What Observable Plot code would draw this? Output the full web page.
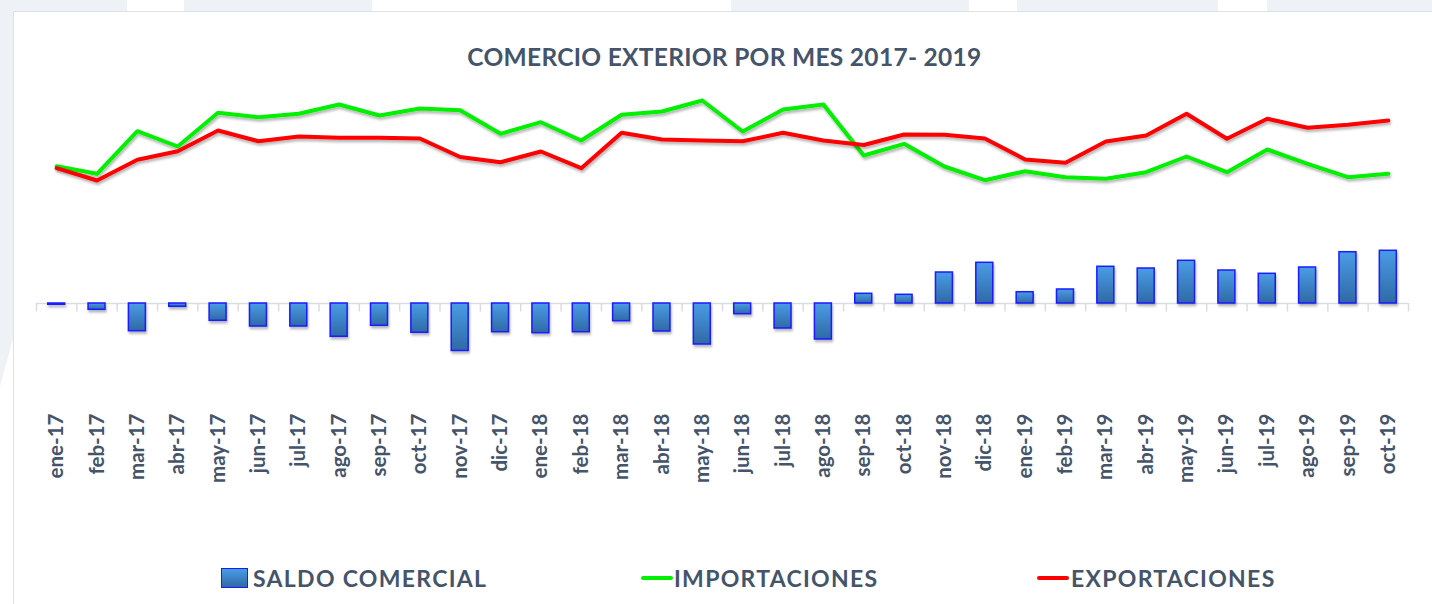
<!DOCTYPE html>
<html><head><meta charset="utf-8">
<script src="https://cdn.jsdelivr.net/npm/d3@7"></script>
<script src="https://cdn.jsdelivr.net/npm/@observablehq/plot@0.6"></script>
<style>
body{margin:0;background:#fff;width:1432px;height:604px;overflow:hidden;position:relative;font-family:Lato,"Open Sans",sans-serif;}
.blk{position:absolute;top:0;height:11px;background:#eef2f6;}
#leftstrip{position:absolute;left:0;top:0;width:13px;height:604px;background:#eef2f6;clip-path:polygon(0 0,100% 0,100% 56%,0 64%,0 100%,0 100%);}
#frame{position:absolute;left:13px;top:11px;width:1500px;height:700px;border:1px solid #dce2e9;box-sizing:border-box;background:#fff;}
#title{position:absolute;left:0;width:1449px;top:42px;text-align:center;font-size:24.5px;font-weight:700;color:#44546a;letter-spacing:0.3px;}
#chart{position:absolute;left:0;top:80px;}
.leg{position:absolute;top:565px;font-size:23px;font-weight:700;color:#44546a;line-height:26px;letter-spacing:1.3px;white-space:nowrap;}
.sw{position:absolute;}
</style></head><body>
<div class="blk" style="left:0;width:127px"></div>
<div class="blk" style="left:184px;width:188px"></div>
<div class="blk" style="left:731px;width:238px"></div>
<div class="blk" style="left:1017px;width:201px"></div>
<div class="blk" style="left:1267px;width:165px"></div>
<div id="leftstrip"></div>
<div id="frame"></div>
<div id="title">COMERCIO EXTERIOR POR MES 2017- 2019</div>
<div id="chart"></div>
<div id="legend"></div>
<script>
const months = ["ene-17","feb-17","mar-17","abr-17","may-17","jun-17","jul-17","ago-17","sep-17","oct-17","nov-17","dic-17",
  "ene-18","feb-18","mar-18","abr-18","may-18","jun-18","jul-18","ago-18","sep-18","oct-18","nov-18","dic-18",
  "ene-19","feb-19","mar-19","abr-19","may-19","jun-19","jul-19","ago-19","sep-19","oct-19"];
const importaciones = [1373,1297,1723,1570,1907,1863,1897,1990,1880,1950,1932,1697,
  1813,1630,1887,1920,2030,1720,1940,1990,1480,1597,1370,1233,
  1323,1263,1247,1313,1470,1313,1540,1397,1263,1297];
const exportaciones = [1353,1230,1437,1523,1730,1623,1670,1657,1657,1650,1465,1413,
  1520,1353,1707,1640,1630,1623,1707,1630,1585,1690,1687,1650,
  1440,1407,1620,1680,1897,1647,1847,1757,1787,1830];
const saldo = [-13,-63,-277,-33,-173,-230,-230,-333,-223,-293,-475,-287,
  -297,-287,-177,-280,-410,-107,-250,-360,97,87,310,407,
  113,140,367,350,427,330,297,360,513,527];
const legendItems = ["SALDO COMERCIAL","IMPORTACIONES","EXPORTACIONES"];
const colors = {bar:"#1a1aff", imp:"#00f000", exp:"#ff0000", axis:"#d9dde3", text:"#44546a"};

const data = months.map((m, i) => ({i, m, imp: importaciones[i], exp: exportaciones[i], saldo: saldo[i]}));
const idx = months.map((_, i) => i);
const bounds = d3.range(months.length + 1).map(i => i - 0.5);

function defs() {
  const g = document.createElementNS("http://www.w3.org/2000/svg", "g");
  g.innerHTML = `<defs>
    <linearGradient id="barGrad" x1="0" y1="0" x2="0" y2="1">
      <stop offset="0" stop-color="#4a9ce6"/><stop offset="1" stop-color="#2f69a6"/>
    </linearGradient>
    <filter id="shadow" x="-5%" y="-20%" width="110%" height="160%">
      <feDropShadow dx="1" dy="2.5" stdDeviation="1.3" flood-color="#000" flood-opacity="0.28"/>
    </filter>
  </defs>`;
  return g;
}

const plot = Plot.plot({
  width: 1432, height: 405,
  marginLeft: 36, marginRight: 24, marginTop: 0, marginBottom: 80,
  x: {domain: [-0.5, months.length - 0.5], axis: null},
  y: {domain: [-1020, 2230], axis: null},
  style: {background: "transparent", overflow: "visible", fontFamily: "Lato, sans-serif", color: colors.text},
  marks: [
    defs,
    Plot.ruleY([0], {stroke: colors.axis, strokeWidth: 1.5}),
    Plot.ruleX(bounds, {x: d => d, y1: 0, y2: -85, stroke: colors.axis, strokeWidth: 1.5}),
    Plot.rectY(data, {x1: d => d.i - 0.21, x2: d => d.i + 0.21, y1: 0, y2: "saldo", fill: "url(#barGrad)", stroke: colors.bar, strokeWidth: 1.5}),
    Plot.line(data, {x: "i", y: "imp", stroke: colors.imp, strokeWidth: 4}),
    Plot.line(data, {x: "i", y: "exp", stroke: colors.exp, strokeWidth: 4}),
    Plot.axisX(idx, {anchor: "bottom", label: null, tickFormat: i => months[i], tickRotate: -90, tickSize: 0, tickPadding: 8, fontSize: 20.5, fontWeight: "bold", fill: colors.text})
  ]
});
d3.select(plot).selectAll('g[aria-label="line"], g[aria-label="rect"]').attr("filter", "url(#shadow)");
document.getElementById("chart").appendChild(plot);

const leg = document.getElementById("legend");
const legPos = [{sw: "bar", sx: 221, tx: 253}, {sw: "imp", sx: 641, tx: 674}, {sw: "exp", sx: 1037, tx: 1071}];
legendItems.forEach((t, k) => {
  const p = legPos[k];
  const s = document.createElement("div");
  s.className = "sw";
  if (p.sw === "bar") {
    Object.assign(s.style, {left: p.sx + "px", top: "568px", width: "27px", height: "20px", background: "linear-gradient(#4a9ce6,#2f69a6)", border: "1.5px solid " + colors.bar, boxSizing: "border-box"});
  } else {
    Object.assign(s.style, {left: p.sx + "px", top: "576px", width: "32px", height: "4px", borderRadius: "2px", background: colors[p.sw]});
  }
  leg.appendChild(s);
  const d = document.createElement("div");
  d.className = "leg";
  d.style.left = p.tx + "px";
  d.textContent = t;
  leg.appendChild(d);
});
</script>
</body></html>
